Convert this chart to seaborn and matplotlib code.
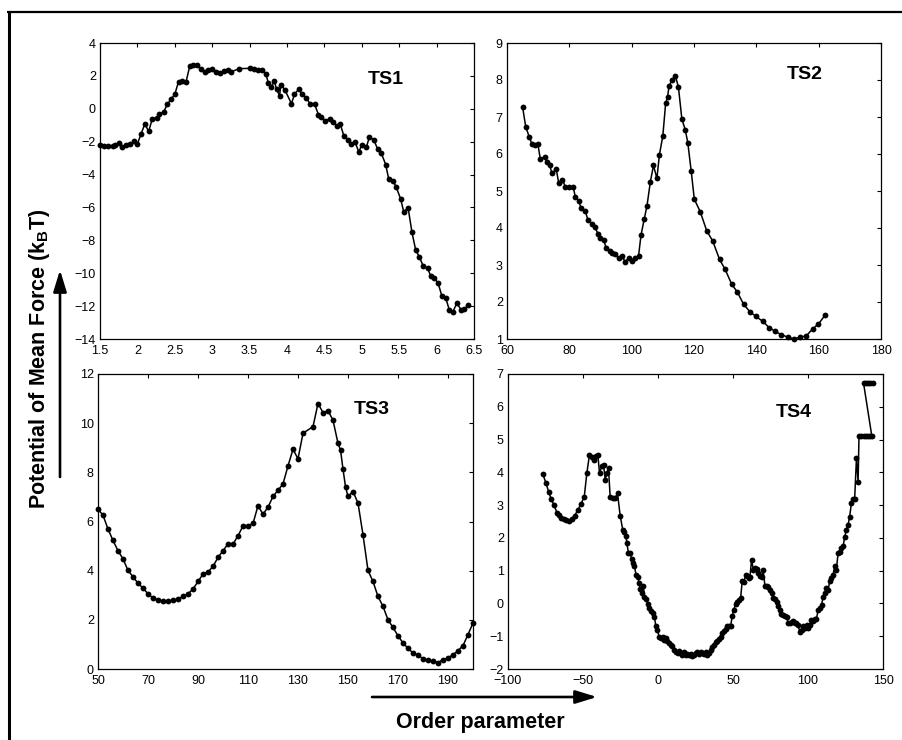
import matplotlib
matplotlib.use("Agg")
import matplotlib.pyplot as plt
from matplotlib.lines import Line2D
from matplotlib.patches import FancyArrowPatch
import numpy as np
import pandas as pd
import seaborn as sns

# ---------------------------------------------------------------- data
# TS1: PMF profile along the first order parameter
ts1_x = [1.50, 1.56, 1.61, 1.67, 1.70, 1.75, 1.79, 1.85, 1.90, 1.96, 2.00,
         2.05, 2.10, 2.15, 2.20, 2.26, 2.29, 2.35, 2.40, 2.45, 2.50,
         2.55, 2.60, 2.65, 2.70, 2.75, 2.80, 2.85, 2.90, 2.95, 3.00,
         3.05, 3.11, 3.16, 3.21, 3.25, 3.36, 3.51, 3.56, 3.61, 3.67,
         3.72, 3.75, 3.79, 3.83, 3.86, 3.90, 3.92, 3.97, 4.06, 4.10,
         4.16, 4.20, 4.26, 4.31, 4.37, 4.42, 4.46, 4.51, 4.57, 4.61,
         4.67, 4.71, 4.76, 4.81, 4.86, 4.91, 4.96, 5.00, 5.06, 5.10,
         5.16, 5.21, 5.26, 5.32, 5.36, 5.42, 5.46, 5.52, 5.56, 5.62,
         5.67, 5.72, 5.77, 5.82, 5.88, 5.92, 5.97, 6.02, 6.07, 6.12,
         6.17, 6.22, 6.27, 6.33, 6.37, 6.42]
ts1_y = [-2.19, -2.29, -2.29, -2.29, -2.19, -2.09, -2.35, -2.23, -2.15, -1.98, -2.13,
         -1.52, -0.91, -1.38, -0.60, -0.56, -0.30, -0.20, 0.27, 0.59, 0.88,
         1.65, 1.69, 1.63, 2.60, 2.66, 2.66, 2.42, 2.22, 2.34, 2.42,
         2.22, 2.17, 2.28, 2.38, 2.24, 2.44, 2.46, 2.42, 2.36, 2.34,
         2.09, 1.57, 1.32, 1.69, 1.20, 0.80, 1.46, 1.16, 0.31, 0.90,
         1.20, 0.88, 0.65, 0.29, 0.27, -0.36, -0.50, -0.73, -0.60, -0.81,
         -1.07, -0.91, -1.64, -1.88, -2.13, -2.02, -2.63, -2.19, -2.35, -1.74,
         -1.88, -2.43, -2.69, -3.40, -4.28, -4.42, -4.76, -5.49, -6.26, -6.04,
         -7.50, -8.58, -9.02, -9.55, -9.69, -10.16, -10.30, -10.60, -11.38, -11.48,
         -12.23, -12.33, -11.82, -12.24, -12.20, -11.94]

# TS2
ts2_x = [65, 66, 67.1, 68, 69.1, 69.9,
         70.7, 72.1, 72.8, 73.7, 74.4, 75.8, 76.6, 77.8, 78.7, 80,
         81.2, 81.9, 83, 83.8, 85.1, 86, 87.2, 88.1, 89.2, 89.9,
         91, 91.8, 92.9, 93.7, 94.7, 95.8, 96.9, 97.9, 99, 100.1,
         101.1, 102.2, 103, 104, 104.9, 106, 107, 108.1, 108.9, 110,
         110.9, 111.5, 112, 112.9, 114, 115, 116.1, 117.2, 118, 119.1,
         120.1, 122, 124.1, 126, 128.2, 130, 132.1, 133.9, 135.9, 138,
         139.9, 142, 144.1, 146, 147.9, 150.1, 152.2, 154, 156, 158.1,
         159.9, 162]
ts2_y = [7.27, 6.74, 6.47, 6.27, 6.24, 6.27,
         5.86, 5.93, 5.78, 5.70, 5.48, 5.59, 5.21, 5.30, 5.12, 5.10,
         5.12, 4.85, 4.73, 4.53, 4.46, 4.21, 4.12, 4.03, 3.85, 3.74,
         3.67, 3.47, 3.38, 3.33, 3.29, 3.18, 3.24, 3.09, 3.18, 3.11,
         3.18, 3.24, 3.81, 4.23, 4.59, 5.25, 5.69, 5.34, 5.98, 6.49,
         7.37, 7.53, 7.84, 7.99, 8.12, 7.81, 6.95, 6.65, 6.31, 5.54,
         4.78, 4.44, 3.92, 3.65, 3.15, 2.88, 2.48, 2.27, 1.94, 1.73,
         1.61, 1.48, 1.31, 1.21, 1.12, 1.05, 1.00, 1.05, 1.08, 1.28,
         1.40, 1.64]

# TS3
ts3_x = [50, 52, 54, 56, 58, 60, 62, 64, 66, 68,
         70, 72, 74, 76, 78, 80, 82, 84, 86, 88,
         90, 92, 94, 96, 98, 100, 102, 104, 106, 108,
         110, 112, 114, 116, 118, 120, 122, 124, 126, 128,
         130, 132, 136, 138, 140, 142, 144, 146, 147, 148,
         149, 150, 152, 154, 156, 158, 160, 162, 164, 166,
         168, 170, 172, 174, 176, 178, 180, 182, 184, 186,
         188, 190, 192, 194, 196, 198, 200]
ts3_y = [6.50, 6.26, 5.69, 5.23, 4.81, 4.48, 4.01, 3.75, 3.49, 3.29,
         3.06, 2.88, 2.80, 2.76, 2.76, 2.80, 2.84, 2.95, 3.06, 3.25,
         3.56, 3.86, 3.95, 4.17, 4.54, 4.81, 5.09, 5.08, 5.42, 5.82,
         5.82, 5.92, 6.64, 6.30, 6.58, 7.02, 7.27, 7.53, 8.26, 8.94,
         8.55, 9.59, 9.86, 10.80, 10.43, 10.51, 10.12, 9.18, 8.91, 8.13,
         7.42, 7.02, 7.22, 6.75, 5.46, 4.01, 3.56, 2.95, 2.55, 2.00,
         1.69, 1.35, 1.06, 0.84, 0.65, 0.56, 0.42, 0.35, 0.31, 0.26,
         0.38, 0.45, 0.58, 0.75, 0.95, 1.40, 1.87]

# TS4 (sampled in path order; the last points fold back in x)
ts4_x = [-76.7, -74.7, -72.9, -71.2, -69.2, -67.4, -66.3, -64.5, -63.0, -61.2,
         -59.2, -57.4, -55.6, -53.4, -51.4, -49.2, -47.4, -45.7, -44.1, -43.0,
         -41.4, -40.1, -39.0, -37.4, -36.3, -35.2, -34.1, -33.0, -31.9, -30.3,
         -28.6, -27.0, -25.2, -23.5, -22.6, -21.3, -20.8, -19.7, -18.6, -17.5,
         -16.4, -15.7, -14.6, -13.5, -12.6, -11.9, -10.8, -9.7, -9.1, -7.9,
         -6.8, -5.7, -4.6, -3.5, -2.4, -1.5, -0.4, 0.7, 1.8, 3.2,
         4.3, 5.4, 6.3, 7.4, 8.5, 9.6, 10.7, 11.8, 13.0, 14.0,
         15.1, 16.2, 17.3, 18.5, 19.6, 20.7, 21.8, 22.9, 24.0, 25.1,
         26.2, 27.3, 28.4, 29.5, 30.7, 31.8, 32.9, 34.0, 35.1, 36.2,
         37.3, 38.4, 39.5, 40.6, 41.7, 42.9, 44.0, 45.1, 46.2, 47.3,
         48.4, 49.5, 50.6, 51.7, 52.8, 53.9, 55.1, 56.2, 57.3, 58.4,
         59.5, 60.6, 61.3, 62.4, 63.5, 64.6, 65.7, 66.8, 67.9, 69.0,
         70.1, 71.3, 72.4, 73.5, 74.6, 75.7, 76.8, 77.9, 79.0, 80.1,
         81.2, 82.3, 83.5, 84.6, 85.7, 86.8, 87.9, 89.0, 90.1, 91.2,
         92.3, 93.4, 94.5, 95.7, 96.8, 97.9, 99.0, 100.1, 101.2, 102.3,
         103.4, 104.5, 105.6, 106.7, 107.9, 109.0, 110.1, 111.2, 112.3, 113.4,
         114.5, 115.6, 116.7, 117.8, 118.9, 120.1, 121.2, 122.3, 123.4, 124.5,
         125.6, 126.7, 127.8, 128.9, 130.0, 131.1, 132.3, 133.4, 134.0, 135.5,
         137.0, 138.5, 140.0, 141.5, 142.5, 137.0, 138.5, 140.0, 141.5, 143.0]
ts4_y = [3.94, 3.67, 3.41, 3.18, 2.99, 2.77, 2.70, 2.62, 2.57, 2.55,
         2.52, 2.58, 2.68, 2.85, 3.04, 3.24, 3.99, 4.53, 4.48, 4.38,
         4.50, 4.52, 3.99, 4.18, 4.23, 3.77, 3.97, 4.12, 3.26, 3.23,
         3.21, 3.36, 2.67, 2.25, 2.17, 2.07, 1.84, 1.55, 1.53, 1.35,
         1.23, 1.13, 0.87, 0.82, 0.62, 0.44, 0.31, 0.52, 0.21, 0.13,
         -0.02, -0.14, -0.24, -0.29, -0.40, -0.68, -0.80, -1.01, -1.06, -1.01,
         -1.11, -1.06, -1.16, -1.21, -1.26, -1.31, -1.41, -1.48, -1.51, -1.44,
         -1.51, -1.56, -1.49, -1.56, -1.53, -1.56, -1.53, -1.59, -1.56, -1.51,
         -1.49, -1.53, -1.49, -1.51, -1.54, -1.49, -1.56, -1.51, -1.43, -1.33,
         -1.26, -1.19, -1.16, -1.09, -1.01, -0.90, -0.85, -0.78, -0.70, -0.68,
         -0.70, -0.38, -0.19, -0.02, 0.03, 0.11, 0.18, 0.70, 0.64, 0.87,
         0.84, 0.77, 0.82, 1.33, 1.03, 1.08, 1.05, 0.92, 0.84, 0.82,
         1.01, 0.54, 0.52, 0.49, 0.42, 0.31, 0.18, 0.13, 0.03, -0.09,
         -0.19, -0.31, -0.35, -0.38, -0.40, -0.60, -0.60, -0.58, -0.55, -0.60,
         -0.60, -0.65, -0.88, -0.80, -0.70, -0.75, -0.65, -0.75, -0.65, -0.50,
         -0.55, -0.48, -0.48, -0.21, -0.14, -0.04, 0.19, 0.31, 0.47, 0.42,
         0.67, 0.77, 0.87, 1.13, 1.03, 1.55, 1.58, 1.69, 1.74, 2.04,
         2.24, 2.40, 2.65, 3.06, 3.18, 3.18, 4.43, 3.72, 5.12, 5.12,
         5.12, 5.12, 5.12, 5.12, 5.12, 6.73, 6.73, 6.73, 6.73, 6.73]

panel_names = ["TS1", "TS2", "TS3", "TS4"]
panel_x = [ts1_x, ts2_x, ts3_x, ts4_x]
panel_y = [ts1_y, ts2_y, ts3_y, ts4_y]
x_limits = [(1.5, 6.5), (60, 180), (50, 200), (-100, 150)]
y_limits = [(-14, 4), (1, 9), (0, 12), (-2, 7)]
x_ticks = [np.arange(1.5, 6.51, 0.5), np.arange(60, 181, 20),
           np.arange(50, 191, 20), np.arange(-100, 151, 50)]
y_ticks = [np.arange(-14, 4.1, 2), np.arange(1, 9.1, 1),
           np.arange(0, 12.1, 2), np.arange(-2, 7.1, 1)]

y_label = r"Potential of Mean Force (k$_{\rm B}$T)"
x_label = "Order parameter"

# ---------------------------------------------------------------- style
sns.set_theme(style="white")
plt.rcParams["font.family"] = ["Liberation Sans", "DejaVu Sans"]
plt.rcParams["mathtext.fontset"] = "custom"
plt.rcParams["mathtext.rm"] = "Liberation Sans:bold"
plt.rcParams["axes.unicode_minus"] = True
plt.rcParams["text.color"] = "black"
plt.rcParams["axes.labelcolor"] = "black"
plt.rcParams["xtick.color"] = "black"
plt.rcParams["ytick.color"] = "black"

W, H = 902, 740
fig = plt.figure(figsize=(W / 100, H / 100), dpi=100, facecolor="white")


def px_rect(left, top, right, bottom):
    return [left / W, 1 - bottom / H, (right - left) / W, (bottom - top) / H]


rects = [px_rect(100, 43, 474, 339), px_rect(507, 43, 881, 339),
         px_rect(98, 374, 473, 669), px_rect(508, 374, 883, 669)]
title_pos = [(0.765, 0.875), (0.797, 0.895), (0.731, 0.880), (0.763, 0.870)]

for i in range(4):
    ax = fig.add_axes(rects[i])
    df = pd.DataFrame({"op": panel_x[i], "pmf": panel_y[i]})
    sns.lineplot(data=df, x="op", y="pmf", ax=ax, sort=False, estimator=None,
                 color="black", linewidth=1.1, marker="o", markersize=4.2,
                 markeredgewidth=0, markerfacecolor="black", clip_on=False)
    ax.set_xlim(*x_limits[i])
    ax.set_ylim(*y_limits[i])
    ax.set_xticks(x_ticks[i])
    ax.set_yticks(y_ticks[i])
    ax.set_xticklabels([f"{v:g}".replace("-", "\u2212") for v in x_ticks[i]])
    ax.set_yticklabels([f"{v:g}".replace("-", "\u2212") for v in y_ticks[i]])
    ax.set_xlabel("")
    ax.set_ylabel("")
    ax.tick_params(axis="both", which="both", direction="in", top=True,
                   right=True, length=3, width=0.8, labelsize=9,
                   colors="black", labelcolor="black")
    ax.tick_params(axis="x", pad=4.5)
    ax.tick_params(axis="y", pad=3)
    for sp in ax.spines.values():
        sp.set_linewidth(0.9)
        sp.set_color("black")
    ax.text(title_pos[i][0], title_pos[i][1], panel_names[i],
            transform=ax.transAxes, ha="center", va="center",
            fontsize=14, fontweight="bold", color="black")

# outer frame (top and left edges)
fig.add_artist(Line2D([7 / W, 1.0], [1 - 11.5 / H, 1 - 11.5 / H],
                      transform=fig.transFigure, color="black", linewidth=1.6,
                      solid_capstyle="butt"))
fig.add_artist(Line2D([8.5 / W, 8.5 / W], [0.0, 1 - 10.5 / H],
                      transform=fig.transFigure, color="black", linewidth=2.2,
                      solid_capstyle="butt"))

# axis labels with direction arrows
fig.text(45 / W, 1 - 358.5 / H, y_label, rotation=90, rotation_mode="anchor",
         ha="center", va="baseline", fontsize=15.5, fontweight="bold",
         color="black")
fig.text(480 / W, 1 - 728 / H, x_label, ha="center", va="baseline",
         fontsize=15.5, fontweight="bold", color="black")

arrow_kw = dict(arrowstyle="-|>,head_length=1.3,head_width=0.4",
                mutation_scale=10, color="black", linewidth=1.9,
                shrinkA=0, shrinkB=0, transform=fig.transFigure)
fig.add_artist(FancyArrowPatch((60 / W, 1 - 477 / H), (60 / W, 1 - 270 / H),
                               **arrow_kw))
fig.add_artist(FancyArrowPatch((372 / W, 1 - 697 / H), (597 / W, 1 - 697 / H),
                               **arrow_kw))

fig.savefig("out.png", dpi=100, facecolor="white")
